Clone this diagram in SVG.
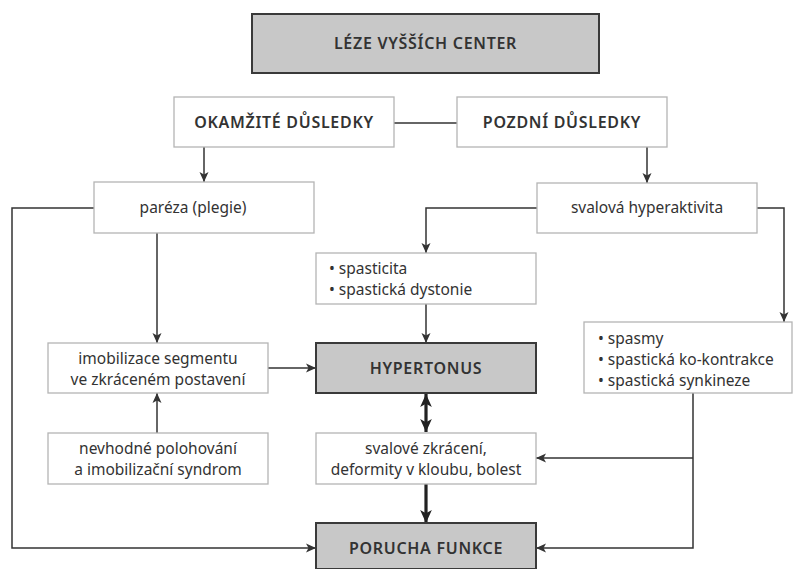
<svg xmlns="http://www.w3.org/2000/svg" width="794" height="569" viewBox="0 0 794 569">
<style>
.bw{fill:#fff;stroke:#b4b4b4;stroke-width:1.3}
.bg{fill:#c8c8c8;stroke:#3a3a3a;stroke-width:2}
text{font-family:"Noto Sans","Open Sans",sans-serif;font-size:15.5px;fill:#333;}
.c{text-anchor:middle}
.cap{font-weight:600;font-size:16px;letter-spacing:0.7px}
.ln{fill:none;stroke:#333;stroke-width:1.5}
.th{fill:none;stroke:#222;stroke-width:3.2}
</style>
<defs>
<marker id="a" viewBox="0 0 10 10" refX="10" refY="5" markerWidth="10" markerHeight="10" markerUnits="userSpaceOnUse" orient="auto"><path d="M0,0.5 L10,5 L0,9.5 L2.5,5 Z" fill="#333"/></marker>
<marker id="b" viewBox="0 0 10 10" refX="10" refY="5" markerWidth="13" markerHeight="13" markerUnits="userSpaceOnUse" orient="auto-start-reverse"><path d="M0,0.5 L10,5 L0,9.5 L2.5,5 Z" fill="#222"/></marker>
</defs>
<rect width="794" height="569" fill="#fff"/>
<g id="connectors">
<path class="ln" d="M394,123 H457"/>
<path class="ln" d="M204,147 V182" marker-end="url(#a)"/>
<path class="ln" d="M647,147 V183" marker-end="url(#a)"/>
<path class="ln" d="M94,208 H12 V548 H316" marker-end="url(#a)"/>
<path class="ln" d="M157,233 V343" marker-end="url(#a)"/>
<path class="ln" d="M537,208 H426 V253" marker-end="url(#a)"/>
<path class="ln" d="M757,208 H784 V322" marker-end="url(#a)"/>
<path class="ln" d="M426,304 V343" marker-end="url(#a)"/>
<path class="ln" d="M268,368 H316" marker-end="url(#a)"/>
<path class="ln" d="M157,433 V393" marker-end="url(#a)"/>
<path class="ln" d="M693,393 V548 H536" marker-end="url(#a)"/>
<path class="ln" d="M693,458 H536" marker-end="url(#a)"/>
<path class="th" d="M426,394 V432" marker-start="url(#b)" marker-end="url(#b)"/>
<path class="th" d="M426,484 V523" marker-end="url(#b)"/>
</g>
<g id="leze"><rect class="bg" x="252" y="14" width="347" height="59"/><text class="c cap" x="425.5" y="49">LÉZE VYŠŠÍCH CENTER</text></g>
<g id="okamzite"><rect class="bw" x="174" y="97" width="220" height="50"/><text class="c cap" x="284" y="128">OKAMŽITÉ DŮSLEDKY</text></g>
<g id="pozdni"><rect class="bw" x="457" y="97" width="210" height="50"/><text class="c cap" x="562" y="128">POZDNÍ DŮSLEDKY</text></g>
<g id="pareza"><rect class="bw" x="94" y="182" width="220" height="51"/><text class="c" x="193" y="213">paréza (plegie)</text></g>
<g id="svalova"><rect class="bw" x="537" y="183" width="220" height="50"/><text class="c" x="647" y="213">svalová hyperaktivita</text></g>
<g id="spasticita"><rect class="bw" x="316" y="253" width="220" height="51"/><text x="329" y="273.5">• spasticita</text><text x="329" y="294.5">• spastická dystonie</text></g>
<g id="spasmy"><rect class="bw" x="584" y="322" width="208" height="71"/><text x="598" y="344">• spasmy</text><text x="598" y="364.5">• spastická ko-kontrakce</text><text x="598" y="385.5">• spastická synkineze</text></g>
<g id="imobilizace"><rect class="bw" x="48" y="343" width="220" height="50"/><text class="c" x="158" y="364">imobilizace segmentu</text><text class="c" x="158" y="385">ve zkráceném postavení</text></g>
<g id="hypertonus"><rect class="bg" x="316" y="343" width="220" height="50"/><text class="c cap" x="426" y="373.5">HYPERTONUS</text></g>
<g id="nevhodne"><rect class="bw" x="48" y="433" width="220" height="51"/><text class="c" x="158" y="454">nevhodné polohování</text><text class="c" x="158" y="474.5">a imobilizační syndrom</text></g>
<g id="zkraceni"><rect class="bw" x="316" y="433" width="220" height="51"/><text class="c" x="426" y="454">svalové zkrácení,</text><text class="c" x="426" y="474.5">deformity v kloubu, bolest</text></g>
<g id="porucha"><rect class="bg" x="316" y="523" width="220" height="46"/><text class="c cap" x="426" y="553.5">PORUCHA FUNKCE</text></g>
</svg>
